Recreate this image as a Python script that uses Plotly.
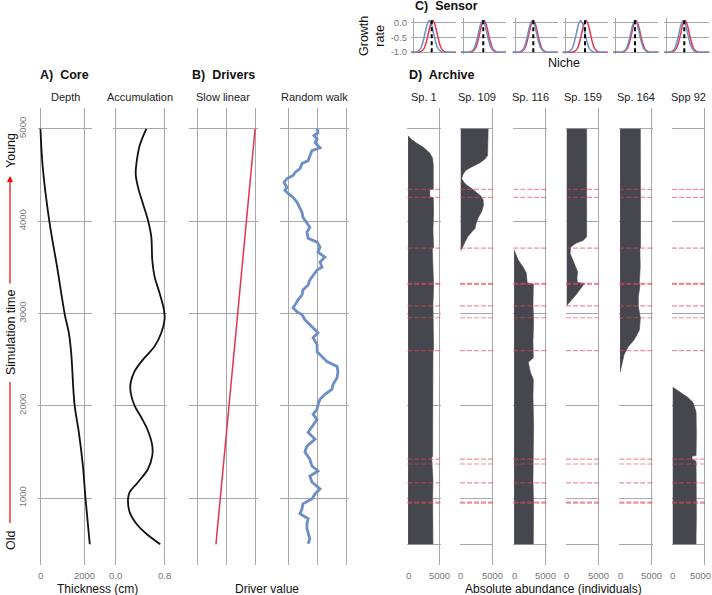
import plotly.graph_objects as go

W, H = 712, 595

# ---- A) Core ----
depth_time = [5000, 4580, 3990, 3500, 2985, 2790, 2575, 2015, 1710, 1350, 990, 500]
depth_cm = [0, 105, 406, 752, 1097, 1278, 1383, 1534, 1730, 1910, 2030, 2220]

accum_time = [5000, 4817, 4620, 4512, 4368, 4189, 4009, 3830, 3579, 3399, 3220, 3040,
              2931, 2788, 2644, 2500, 2374, 2249, 2141, 1998, 1873, 1729, 1567, 1460,
              1315, 1172, 1064, 991, 848, 722, 614, 500]
accum_rate = [0.503, 0.394, 0.341, 0.33, 0.367, 0.448, 0.53, 0.584, 0.60, 0.638, 0.719, 0.79,
              0.80, 0.746, 0.638, 0.448, 0.313, 0.248, 0.248, 0.313, 0.422, 0.53, 0.60, 0.60,
              0.53, 0.367, 0.232, 0.205, 0.232, 0.341, 0.503, 0.73]

# ---- B) Drivers ----
linear_time = [500, 5000]
linear_value = [-0.38, 0.97]

walk_time = [5000, 4957, 4925, 4892, 4849, 4795, 4763, 4709, 4655, 4623, 4569, 4526, 4494,
             4461, 4418, 4364, 4332, 4300, 4256, 4203, 4149, 4095, 4041, 3987, 3933, 3879,
             3815, 3772, 3718, 3664, 3610, 3556, 3502, 3470, 3416, 3362, 3308, 3254, 3200,
             3147, 3093, 3060, 3017, 2985, 2931, 2856, 2791, 2737, 2662, 2586, 2532, 2478,
             2425, 2371, 2306, 2231, 2177, 2123, 2069, 2015, 1961, 1907, 1853, 1767, 1713,
             1638, 1562, 1498, 1422, 1347, 1293, 1239, 1174, 1099, 1045, 991, 937, 884,
             830, 776, 722, 668, 614, 560, 506]
walk_value = [-0.03, 0.00, -0.14, -0.03, -0.10, 0.07, -0.21, -0.28, -0.34, -0.55, -0.62, -0.79,
              -0.86, -1.07, -1.17, -1.07, -1.14, -1.03, -0.86, -0.72, -0.62, -0.55, -0.52,
              -0.41, -0.28, -0.38, -0.34, -0.03, 0.07, 0.00, 0.24, 0.07, 0.14, -0.03, -0.17,
              -0.28, -0.34, -0.52, -0.55, -0.69, -0.79, -0.86, -0.72, -0.55, -0.45, -0.22,
              0.00, -0.17, -0.03, -0.03, 0.14, 0.31, 0.66, 0.69, 0.66, 0.52, 0.48, 0.24, 0.07,
              0.00, -0.03, -0.17, -0.03, -0.21, -0.34, -0.10, -0.38, -0.45, -0.28, -0.21,
              0.00, -0.28, -0.21, 0.07, -0.10, -0.21, -0.52, -0.55, -0.62, -0.34, -0.38,
              -0.38, -0.34, -0.28, -0.34]

# ---- C) Sensor ----
sensor_optimum = [43.8, 47.6, 43.6, 47.6, 46.0, 41.9]
sensor_red_peak = [46.2, 49.3, 43.6, 50.0, 48.3, 43.6]
sensor_blue_peak = [38.1, 46.2, 41.2, 37.4, 46.0, 39.5]
niche_offset = [-60, -40, -30, -25, -20, -15, -10, -5, 0, 5, 10, 15, 20, 25, 30, 40, 60]
growth_rate = [-1, -1, -0.99, -0.95, -0.86, -0.65, -0.35, -0.06, 0.07,
               -0.06, -0.35, -0.65, -0.86, -0.95, -0.99, -1, -1]

# ---- D) Archive ----
species = ['Sp. 1', 'Sp. 109', 'Sp. 116', 'Sp. 159', 'Sp. 164', 'Spp 92']

sp1_time = [4925, 4880, 4840, 4800, 4740, 4680, 4600, 4450, 4345, 4340, 4260, 4255, 4100,
            3900, 3710, 3700, 3500, 3300, 3100, 2900, 2600, 2590, 2300, 2000, 1700, 1450,
            1440, 1200, 1000, 800, 600, 500]
sp1_abund = [0, 600, 1450, 2400, 3400, 3900, 4000, 4050, 4000, 3450, 3450, 4000, 4050,
             3950, 4050, 3850, 4000, 4050, 3950, 4000, 4050, 3950, 3950, 3950, 3900, 3900,
             3750, 3950, 3900, 3950, 3900, 3950]

sp109_time = [5000, 4900, 4800, 4710, 4670, 4630, 4590, 4550, 4500, 4460, 4420, 4385, 4350,
              4310, 4270, 4230, 4170, 4100, 4040, 3980, 3920, 3880, 3830, 3770, 3720, 3690,
              3680]
sp109_abund = [4350, 4300, 4350, 4250, 3800, 3000, 1800, 800, 300, 150, 500, 1000, 1800,
               2600, 3200, 3550, 3600, 3300, 2800, 2450, 2250, 1700, 1100, 650, 350, 100, 0]

sp116_time = [3690, 3640, 3580, 3500, 3440, 3330, 3320, 3100, 2900, 2700, 2520, 2470, 2410,
              2360, 2285, 2100, 1800, 1500, 1200, 900, 600, 500]
sp116_abund = [0, 250, 640, 1450, 1930, 2090, 3060, 3000, 3100, 3000, 3050, 2250, 2400,
               2600, 3060, 3000, 3100, 3050, 3000, 3100, 3050, 3050]

sp159_time = [5000, 4600, 4200, 3830, 3790, 3760, 3720, 3650, 3560, 3450, 3380, 3335, 3325,
              3275, 3200, 3130, 3085]
sp159_abund = [3150, 3200, 3150, 3150, 2600, 1450, 640, 530, 1070, 1720, 1610, 1700, 2800,
               2260, 1450, 530, 0]

sp164_time = [5000, 4500, 4000, 3710, 3700, 3500, 3330, 3300, 3180, 3075, 2950, 2820, 2715,
              2640, 2555, 2470, 2360]
sp164_abund = [3220, 3250, 3200, 3250, 3150, 3200, 3050, 3150, 2900, 2900, 3220, 3060, 2250,
               1290, 640, 320, 0]

spp92_time = [2200, 2145, 2090, 2035, 1930, 1700, 1460, 1455, 1420, 1400, 1200, 1000, 800,
              600, 500]
spp92_abund = [0, 1130, 2410, 3220, 3700, 3750, 3700, 3060, 3060, 3700, 3750, 3700, 3750,
               3700, 3700]

archive_time = [sp1_time, sp109_time, sp116_time, sp159_time, sp164_time, spp92_time]
archive_abund = [sp1_abund, sp109_abund, sp116_abund, sp159_abund, sp164_abund, spp92_abund]

event_time = [4343, 4256, 3707, 3325, 3315, 3082, 2953, 2597, 1422, 1369, 1164, 955, 945]

time_ticks = [1000, 2000, 3000, 4000, 5000]
abund_ticks = [0, 5000]
abund_labels = ['0', '5000']


def px(x):
    return x / W


def py(y):
    return 1 - y / H


def ax_key(i, kind):
    return kind + 'axis' + ('' if i == 1 else str(i))


def ax_ref(i, kind):
    return kind + ('' if i == 1 else str(i))


FONT = 'Liberation Sans, Arial, sans-serif'
GRID = '#A8A8A8'
TICK = dict(size=9.5, color='#777777', family=FONT)
BLACK = '#111111'
RED = '#E4344F'
BLUE = '#6C8FC6'
BAR = '#46464E'

fig = go.Figure()
layout_axes = {}
ann = []


def text(s, x, y, size=11, bold=False, anchor='center', angle=0, color=BLACK):
    ann.append(dict(text=('<b>%s</b>' % s) if bold else s, x=px(x), y=py(y), xref='paper',
                    yref='paper', showarrow=False, xanchor=anchor, yanchor='middle',
                    textangle=angle, font=dict(size=size, color=color, family=FONT)))


def x_ticklabels(i, vals, labels, shift=0):
    # tick labels placed on the axis' own scale, just under the panel
    for v, s in zip(vals, labels):
        ann.append(dict(text=s, x=v, xref=ax_ref(i, 'x'), y=py(575), yref='paper',
                        showarrow=False, xanchor='center', yanchor='middle', font=TICK,
                        xshift=shift if v == vals[-1] else 0))


base = dict(showgrid=True, gridcolor=GRID, gridwidth=0.9, zeroline=False, automargin=False,
            showline=False, ticks='', tickfont=TICK, fixedrange=True)

main_ydom = [py(565), py(108)]
main_yrange = [275, 5225]

# left panels: index, pixel domain, range, tickvals, ticktext
left_panels = [
    (1, [38, 92], [-110, 2320], [0, 2000], ['0', '2000']),
    (2, [113, 167], [-0.04, 0.84], [0, 0.8], ['0.0', '0.8']),
    (3, [189, 258], [-1.31, 1.07], [-1, 0, 1], None),
    (4, [280, 349], [-1.31, 1.07], [-1, 0, 1], None),
]
for i, dom, rng, tv, tt in left_panels:
    layout_axes[ax_key(i, 'x')] = dict(base, domain=[px(dom[0]), px(dom[1])], range=rng,
                                       tickvals=tv, showticklabels=False, anchor=ax_ref(i, 'y'))
    if tt:
        x_ticklabels(i, tv, tt)
    ya = dict(base, domain=main_ydom, range=main_yrange, tickvals=time_ticks,
              anchor=ax_ref(i, 'x'), showticklabels=(i == 1))
    if i == 1:
        ya.update(tickangle=-90, ticklabelstandoff=9)
    layout_axes[ax_key(i, 'y')] = ya

# archive panels
arch_left = [407.3, 460, 513.3, 566, 619.3, 672]
for k in range(6):
    i = 5 + k
    layout_axes[ax_key(i, 'x')] = dict(base, domain=[px(arch_left[k]), px(arch_left[k] + 33.4)],
                                       range=[-120, 5180], tickvals=abund_ticks,
                                       showticklabels=False, anchor=ax_ref(i, 'y'))
    x_ticklabels(i, abund_ticks, abund_labels, shift=-4 if k == 5 else 0)
    layout_axes[ax_key(i, 'y')] = dict(base, domain=main_ydom, range=main_yrange,
                                       tickvals=[500] + time_ticks, showticklabels=False,
                                       anchor=ax_ref(i, 'x'))

# sensor panels
sens_left = [413.3, 463.3, 515, 565, 615.7, 666.7]
for k in range(6):
    i = 11 + k
    layout_axes[ax_key(i, 'x')] = dict(base, domain=[px(sens_left[k] - 2.3), px(sens_left[k] + 42.7)],
                                       range=[-5.5, 101.7], tickvals=[0, 100],
                                       showticklabels=False, anchor=ax_ref(i, 'y'))
    ya = dict(base, domain=[py(53.5), py(18)], range=[-1.045, 0.15],
              tickvals=[-1, -0.5, 0], ticktext=['-1.0', '-0.5', '0.0'],
              showticklabels=(k == 0), anchor=ax_ref(i, 'x'))
    if k == 0:
        ya['ticklabelstandoff'] = 3
    layout_axes[ax_key(i, 'y')] = ya

# ---- traces ----
fig.add_trace(go.Scatter(x=depth_cm, y=depth_time, mode='lines', line=dict(color=BLACK, width=1.8),
                         line_shape='spline', xaxis='x', yaxis='y'))
fig.add_trace(go.Scatter(x=accum_rate, y=accum_time, mode='lines', line=dict(color=BLACK, width=1.8),
                         line_shape='spline', xaxis='x2', yaxis='y2'))
fig.add_trace(go.Scatter(x=linear_value, y=linear_time, mode='lines', line=dict(color=RED, width=1.5),
                         xaxis='x3', yaxis='y3'))
fig.add_trace(go.Scatter(x=walk_value, y=walk_time, mode='lines', line=dict(color=BLUE, width=2.8),
                         xaxis='x4', yaxis='y4'))

for k in range(6):
    i = 5 + k
    fig.add_trace(go.Scatter(x=archive_abund[k], y=archive_time[k], mode='lines', fill='tozerox',
                             fillcolor=BAR, line=dict(color=BAR, width=0.6),
                             xaxis=ax_ref(i, 'x'), yaxis=ax_ref(i, 'y')))

for k in range(6):
    i = 11 + k
    xr, yr = ax_ref(i, 'x'), ax_ref(i, 'y')
    fig.add_trace(go.Scatter(x=[sensor_red_peak[k] + d for d in niche_offset], y=growth_rate,
                             mode='lines', line=dict(color=RED, width=1.5), line_shape='spline',
                             xaxis=xr, yaxis=yr))
    fig.add_trace(go.Scatter(x=[sensor_blue_peak[k] + d for d in niche_offset], y=growth_rate,
                             mode='lines', line=dict(color=BLUE, width=1.5), line_shape='spline',
                             xaxis=xr, yaxis=yr))
    fig.add_trace(go.Scatter(x=[sensor_optimum[k], sensor_optimum[k]], y=[-1, 0.1], mode='lines',
                             line=dict(color='black', width=2, dash='4px,3px'),
                             xaxis=xr, yaxis=yr))

# event lines across archive panels
shapes = []
for k in range(6):
    i = 5 + k
    for t in event_time:
        shapes.append(dict(type='line', xref=ax_ref(i, 'x') + ' domain', yref=ax_ref(i, 'y'),
                           x0=0, x1=1, y0=t, y1=t, layer='above', opacity=0.6,
                           line=dict(color='#E8475F', width=1.2, dash='5px,2px')))

# simulation time axis (lower red line)
shapes.append(dict(type='line', xref='paper', yref='paper', x0=px(10), x1=px(10),
                   y0=py(382), y1=py(523), line=dict(color='#F00000', width=1.2)))

text('A)\u00a0 Core', 38, 75, 12.5, True, 'left')
text('B)\u00a0 Drivers', 190, 75, 12.5, True, 'left')
text('C)\u00a0 Sensor', 413, 6, 12.5, True, 'left')
text('D)\u00a0 Archive', 407, 75, 12.5, True, 'left')

for (i, dom, rng, tv, tt), name in zip(left_panels, ['Depth', 'Accumulation', 'Slow linear', 'Random walk']):
    text(name, (dom[0] + dom[1]) / 2, 97, 11, color='#222222')
for k in range(6):
    text(species[k], arch_left[k] + 16.7, 97, 11, color='#222222')

text('Thickness (cm)', 97, 588.5, 12)
text('Driver value', 267, 588.5, 12)
text('Absolute abundance (individuals)', 553, 588.5, 12)
text('Niche', 564, 63, 12.5)
text('Growth<br>rate', 372, 36, 12.5, angle=-90)

text('Young', 11, 151, 12.5, angle=-90)
text('Simulation time', 11, 333, 12.5, angle=-90)
text('Old', 11, 540, 12.5, angle=-90)
ann.append(dict(text='', x=px(10), y=py(176), xref='paper', yref='paper', showarrow=True,
                axref='pixel', ayref='pixel', ax=0, ay=109, arrowhead=2, arrowsize=1,
                arrowwidth=1.2, arrowcolor='#F00000'))

fig.update_layout(width=W, height=H, margin=dict(l=0, r=0, t=0, b=0, autoexpand=False),
                  paper_bgcolor='white', plot_bgcolor='white', showlegend=False,
                  font=dict(family=FONT), shapes=shapes, annotations=ann, **layout_axes)

# page has a default body margin; drop it so the figure sits at the window's corner
fig.write_html('out.html', config={'displayModeBar': False},
               post_script="document.body.style.margin='0';")
